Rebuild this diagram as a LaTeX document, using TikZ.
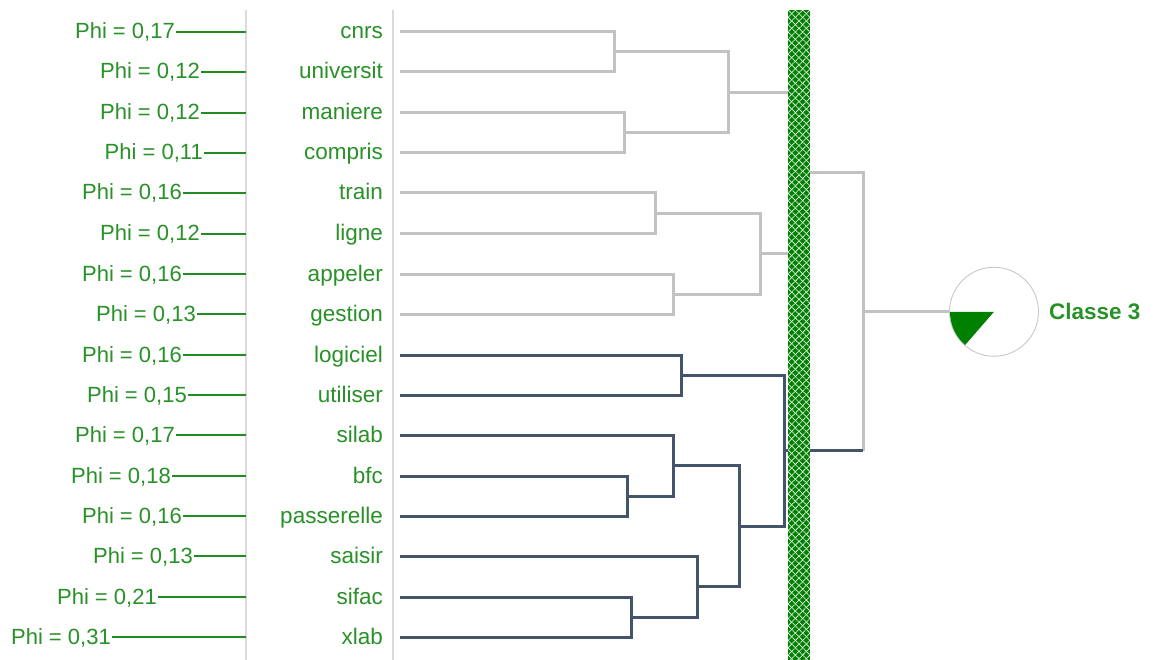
\documentclass[tikz,border=0pt]{standalone}
\usepackage{fontspec}
\setmainfont{Liberation Sans}
\definecolor{txtgreen}{RGB}{40,145,40}
\definecolor{lingreen}{RGB}{34,139,34}
\definecolor{bargreen}{RGB}{0,128,0}
\definecolor{dgray}{RGB}{194,194,194}
\definecolor{sepgray}{RGB}{218,218,218}
\definecolor{circgray}{RGB}{200,200,200}
\definecolor{dblue}{RGB}{68,84,106}
\begin{document}
\begin{tikzpicture}[x=1pt,y=-1pt,
  philbl/.style={anchor=east, inner sep=1pt, text height=16pt, text depth=2pt, text=txtgreen, font=\fontsize{22}{24}\selectfont},
  wordlbl/.style={anchor=east, inner sep=0pt, text height=16pt, text depth=2pt, text=txtgreen, font=\fontsize{22.5}{24}\selectfont},
  philine/.style={draw=lingreen, line width=2pt},
  grayline/.style={draw=dgray, line width=3pt, line join=miter},
  blueline/.style={draw=dblue, line width=3pt, line join=miter},
  sepline/.style={draw=sepgray, line width=1.2pt}]
\useasboundingbox[fill=white] (0,0) rectangle (1153,660);

% separators
\draw[sepline] (246,10) -- (246,660);
\draw[sepline] (393,10) -- (393,660);

% rows
\foreach \i/\w/\p/\xe in {0/cnrs/{0,17}/175, 1/universit/{0,12}/200, 2/maniere/{0,12}/200, 3/compris/{0,11}/203,
  4/train/{0,16}/182, 5/ligne/{0,12}/200, 6/appeler/{0,16}/182, 7/gestion/{0,13}/196,
  8/logiciel/{0,16}/182, 9/utiliser/{0,15}/187, 10/silab/{0,17}/175, 11/bfc/{0,18}/171,
  12/passerelle/{0,16}/182, 13/saisir/{0,13}/193, 14/sifac/{0,21}/157, 15/xlab/{0,31}/111}{
  \pgfmathsetmacro\yy{round(32+40.33*\i)}
  \node[philbl] (p\i) at (\xe+1,\yy) {Phi = \p};
  \coordinate (g\i) at (246,\yy);
  \draw[philine] (p\i) -- (g\i);
  \node[wordlbl] (w\i) at (383,\yy) {\w};
  \coordinate (s\i) at (400,\yy);
}

% gray dendrogram
\coordinate (a1) at (614,52);
\coordinate (a2) at (624,133);
\coordinate (b1) at (728,92.5);
\coordinate (a3) at (655,213.5);
\coordinate (a4) at (673,294);
\coordinate (b2) at (760,253.75);
\coordinate (c1) at (799,173);
\draw[grayline] (s0) -| (a1) |- (s1);
\draw[grayline] (s2) -| (a2) |- (s3);
\draw[grayline] (a1) -| (b1) |- (a2);
\draw[grayline] (s4) -| (a3) |- (s5);
\draw[grayline] (s6) -| (a4) |- (s7);
\draw[grayline] (a3) -| (b2) |- (a4);
\draw[grayline] (b1) -| (c1) |- (b2);

% blue dendrogram
\coordinate (e1) at (681,375);
\coordinate (e2) at (627,496);
\coordinate (e3) at (673,465.5);
\coordinate (e4) at (631,617);
\coordinate (e5) at (697,586.5);
\coordinate (e6) at (739,526);
\coordinate (e7) at (784,450.5);
\draw[blueline] (s8) -| (e1) |- (s9);
\draw[blueline] (s11) -| (e2) |- (s12);
\draw[blueline] (s10) -| (e3) |- (e2);
\draw[blueline] (s14) -| (e4) |- (s15);
\draw[blueline] (s13) -| (e5) |- (e4);
\draw[blueline] (e3) -| (e6) |- (e5);
\draw[blueline] (e1) -| (e7) |- (e6);

% root
\coordinate (rtop) at (863,173);
\coordinate (rbot) at (863,450.5);
\coordinate (rt) at (863,311.75);
\draw[grayline] (c1) -- (rtop) -- (rbot);
\draw[blueline] (e7) -- (rbot);

% hatched bar
\fill[bargreen] (788,10) rectangle (810,660);
\begin{scope}
  \clip (788,10) rectangle (810,660);
  \foreach \k in {-4,...,92}{
    \draw[white, line width=0.8pt, dash pattern=on 1.1pt off 0.6pt] (788,10+\k*7.33) -- ++(22,22);
    \draw[white, line width=0.8pt, dash pattern=on 1.1pt off 0.6pt] (810,10+\k*7.33) -- ++(-22,22);
  }
\end{scope}

% class circle
\node[circle, draw=circgray, line width=0.9pt, minimum size=89pt, inner sep=0pt] (cls) at (994,311.75) {};
\fill[bargreen] (cls.center) -- plot[domain=180:229, samples=25] ({994+44*cos(\x)},{311.75-44*sin(\x)}) -- cycle;
\draw[grayline] (rt) -- (cls);
\node[anchor=west, inner sep=0pt, text=txtgreen, text height=17pt, text depth=2pt, font=\bfseries\fontsize{22.5}{25}\selectfont] (lab) at (1049,311.75) {Classe 3};
\end{tikzpicture}
\end{document}
